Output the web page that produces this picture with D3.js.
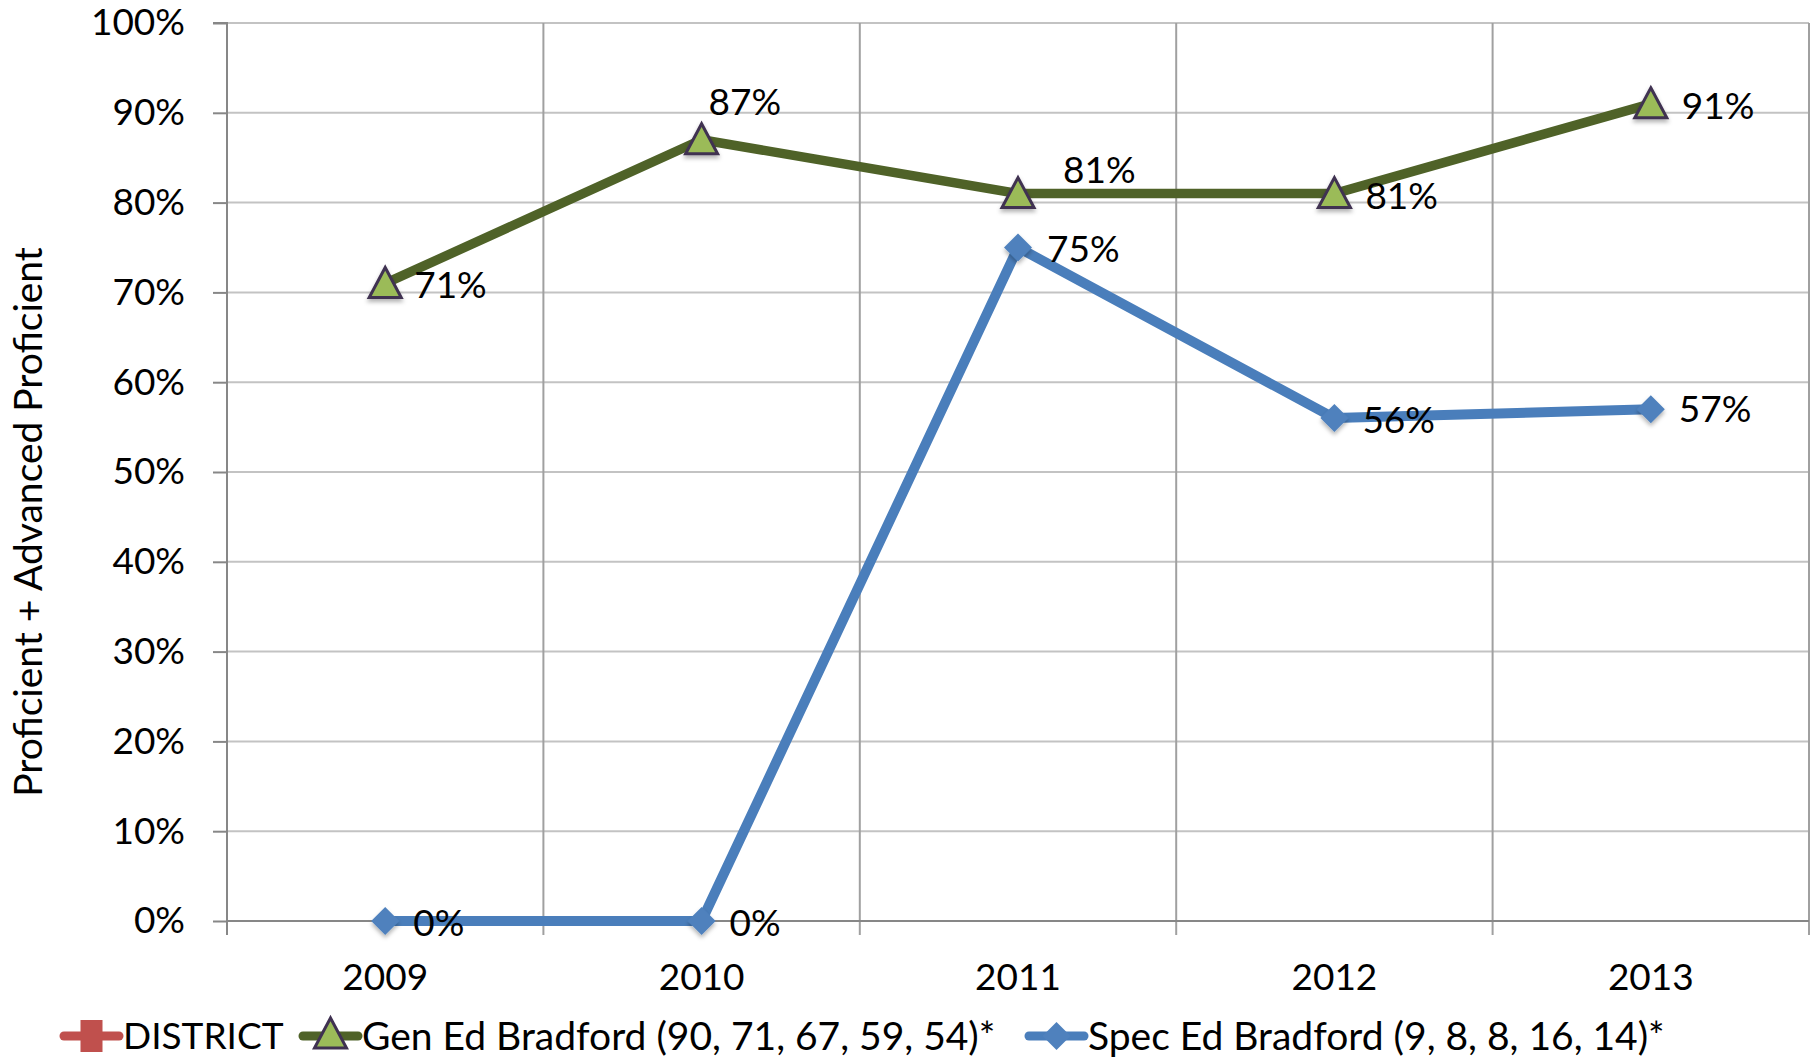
<!DOCTYPE html>
<html lang="en">
<head>
<meta charset="UTF-8">
<title>Proficient + Advanced Proficient</title>
<script src="https://d3js.org/d3.v7.min.js"></script>
<style>
  body { margin: 0; background: #fff; }
  svg text { font-family: Lato, "Open Sans", sans-serif; fill: #000; }
  .hgrid { stroke: #c3c3c3; stroke-width: 2px; }
  .vgrid { stroke: #a0a0a0; stroke-width: 2px; }
  .axis-line { stroke: #878787; stroke-width: 2px; }
</style>
</head>
<body>
<div id="chart"></div>
<script>
// Data
const years = ["2009", "2010", "2011", "2012", "2013"];
const genEd = [0.71, 0.87, 0.81, 0.81, 0.91];
const specEd = [0, 0, 0.75, 0.56, 0.57];
const yTicks = [0, 0.1, 0.2, 0.3, 0.4, 0.5, 0.6, 0.7, 0.8, 0.9, 1.0];
const legendLabels = ["DISTRICT", "Gen Ed Bradford (90, 71, 67, 59, 54)*", "Spec Ed Bradford (9, 8, 8, 16, 14)*"];
const yTitle = "Proficient + Advanced Proficient";

const W = 1814, H = 1063;
const margin = { top: 23, right: 5, bottom: 142, left: 227 };
const fs = 37;

const svg = d3.select("#chart").append("svg")
    .attr("width", W)
    .attr("height", H);

// marker shadow
const defs = svg.append("defs");
const f = defs.append("filter").attr("id", "shadow")
    .attr("x", "-50%").attr("y", "-50%").attr("width", "200%").attr("height", "200%");
f.append("feDropShadow").attr("dx", 0).attr("dy", 3).attr("stdDeviation", 2)
    .attr("flood-color", "#000").attr("flood-opacity", 0.3);

const x = d3.scaleBand().domain(years).range([margin.left, W - margin.right]);
const y = d3.scaleLinear().domain([0, 1]).range([H - margin.bottom, margin.top]);
const cx = d => x(d) + x.bandwidth() / 2;

// horizontal gridlines
svg.append("g").selectAll("line")
    .data(yTicks.slice(1))
  .enter().append("line")
    .attr("class", "hgrid")
    .attr("x1", margin.left).attr("x2", W - margin.right)
    .attr("y1", d => y(d)).attr("y2", d => y(d));

// vertical gridlines at category boundaries (plus tick below axis)
const bounds = years.map(d => x(d)).concat([x(years[years.length - 1]) + x.bandwidth()]);
svg.append("g").selectAll("line")
    .data(bounds.slice(1))
  .enter().append("line")
    .attr("class", "vgrid")
    .attr("x1", d => d).attr("x2", d => d)
    .attr("y1", y(1)).attr("y2", y(0) + 14);

// Y axis
const yAxis = svg.append("g")
    .attr("transform", "translate(" + margin.left + ",0)")
    .call(d3.axisLeft(y).tickValues(yTicks).tickFormat(d3.format(".0%"))
        .tickSize(14).tickPadding(28));
yAxis.select(".domain").attr("class", "axis-line").attr("fill", "none")
    .attr("d", "M-14," + y(1) + "H0V" + (y(0) + 14));
yAxis.selectAll(".tick line").attr("class", "axis-line");
yAxis.selectAll(".tick text").style("font-size", fs + "px");

// X axis
const xAxis = svg.append("g")
    .attr("transform", "translate(0," + y(0) + ")")
    .call(d3.axisBottom(x).tickSize(0).tickPadding(43));
xAxis.select(".domain").attr("class", "axis-line").attr("fill", "none")
    .attr("d", "M" + margin.left + ",0H" + (W - margin.right));
xAxis.selectAll(".tick text").style("font-size", fs + "px");

// Y title
svg.append("text")
    .attr("transform", "translate(42,522) rotate(-90)")
    .attr("text-anchor", "middle")
    .style("font-size", "39px")
    .text(yTitle);

const line = d3.line()
    .x((d, i) => cx(years[i]))
    .y(d => y(d));

const triangle = "M0,-16L16,14L-16,14Z";
const diamond = "M0,-14L14,0L0,14L-14,0Z";

// Gen Ed series
svg.append("path")
    .datum(genEd)
    .attr("fill", "none")
    .attr("stroke", "#4f6228")
    .attr("stroke-width", 9.5)
    .attr("stroke-linejoin", "round")
    .attr("d", line);

svg.append("g").selectAll("path")
    .data(genEd)
  .enter().append("path")
    .attr("d", triangle)
    .attr("transform", (d, i) => "translate(" + cx(years[i]) + "," + y(d) + ")")
    .attr("fill", "#9bbb59")
    .attr("stroke", "#3f3151")
    .attr("stroke-width", 3)
    .attr("filter", "url(#shadow)");

// Spec Ed series
svg.append("path")
    .datum(specEd)
    .attr("fill", "none")
    .attr("stroke", "#4a7ebb")
    .attr("stroke-width", 10)
    .attr("stroke-linejoin", "round")
    .attr("d", line);

svg.append("g").selectAll("path")
    .data(specEd)
  .enter().append("path")
    .attr("d", diamond)
    .attr("transform", (d, i) => "translate(" + cx(years[i]) + "," + y(d) + ")")
    .attr("fill", "#4f81bd")
    .attr("filter", "url(#shadow)");

// data labels (offsets from marker)
const genOffsets = [[29, 2], [7, -38], [45, -24], [31, 2], [31, 2]];
const specOffsets = [[28, 2], [28, 2], [29, 2], [28, 2], [28, 0]];
const fmt = d3.format(".0%");

function labels(values, offsets) {
  svg.append("g").selectAll("text")
      .data(values)
    .enter().append("text")
      .attr("x", (d, i) => cx(years[i]) + offsets[i][0])
      .attr("y", (d, i) => y(d) + offsets[i][1])
      .attr("dy", "0.35em")
      .style("font-size", fs + "px")
      .text(d => fmt(d));
}
labels(genEd, genOffsets);
labels(specEd, specOffsets);

// Legend
const legendY = 1036;
const legendX = [64, 303, 1029];
const legendFs = [37, 39, 39];
const lg = svg.append("g");

// DISTRICT
lg.append("line")
    .attr("x1", legendX[0]).attr("x2", legendX[0] + 55)
    .attr("y1", legendY).attr("y2", legendY)
    .attr("stroke", "#c0504d").attr("stroke-width", 9).attr("stroke-linecap", "round");
lg.append("rect")
    .attr("x", legendX[0] + 27.5 - 11).attr("y", legendY - 16)
    .attr("width", 22).attr("height", 32)
    .attr("fill", "#c0504d");

// Gen Ed
lg.append("line")
    .attr("x1", legendX[1]).attr("x2", legendX[1] + 55)
    .attr("y1", legendY).attr("y2", legendY)
    .attr("stroke", "#4f6228").attr("stroke-width", 9).attr("stroke-linecap", "round");
lg.append("path")
    .attr("d", triangle)
    .attr("transform", "translate(" + (legendX[1] + 27.5) + "," + (legendY - 2) + ")")
    .attr("fill", "#9bbb59").attr("stroke", "#3f3151").attr("stroke-width", 3);

// Spec Ed
lg.append("line")
    .attr("x1", legendX[2]).attr("x2", legendX[2] + 55)
    .attr("y1", legendY).attr("y2", legendY)
    .attr("stroke", "#4a7ebb").attr("stroke-width", 9).attr("stroke-linecap", "round");
lg.append("path")
    .attr("d", diamond)
    .attr("transform", "translate(" + (legendX[2] + 27.5) + "," + legendY + ")")
    .attr("fill", "#4f81bd");

lg.selectAll("text")
    .data(legendLabels)
  .enter().append("text")
    .attr("x", (d, i) => legendX[i] + 59)
    .attr("y", legendY)
    .attr("dy", "0.35em")
    .style("font-size", (d, i) => legendFs[i] + "px")
    .text(d => d);
</script>
</body>
</html>
